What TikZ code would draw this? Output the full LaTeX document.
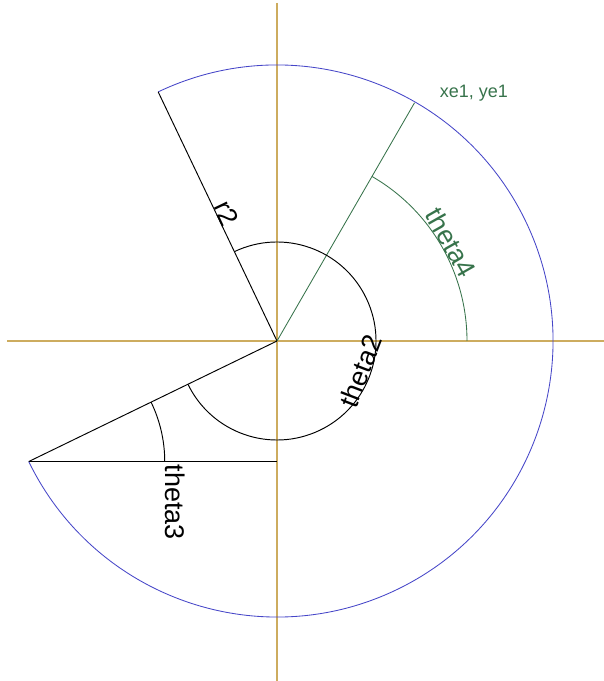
\documentclass[tikz,border=0pt]{standalone}
\usepackage{fontspec}
\setmainfont{Liberation Sans}
\definecolor{axiscol}{RGB}{205,172,95}
\definecolor{arcblue}{RGB}{70,70,200}
\definecolor{lblgreen}{RGB}{55,115,75}
\begin{document}
\begin{tikzpicture}[
  axisline/.style={draw=axiscol, line width=1.1pt},
  blackline/.style={draw=black, line width=0.95pt},
  greenline/.style={draw=lblgreen, line width=0.85pt},
  blueline/.style={draw=arcblue, line width=0.85pt},
  lbl/.style={font=\fontsize{27}{30}\selectfont, inner sep=0pt},
]
\useasboundingbox (0,0) rectangle (604pt,681pt);
\coordinate (C) at (277pt,340pt);
\coordinate (AxL) at (7pt,340pt);
\coordinate (AxR) at (604pt,340pt);
\coordinate (AxT) at (277pt,678pt);
\coordinate (AxB) at (277pt,0pt);
\draw[axisline] (AxL) -- (AxR);
\draw[axisline] (AxT) -- (AxB);
\path (C) ++(115.5:276pt) coordinate (R2end);
\path (C) ++(-154.1:276pt) coordinate (P3);
\path (C) ++(60:275pt) coordinate (G);
\coordinate (H) at (P3 -| C);
% outer arc
\draw[blueline] (R2end) arc[start angle=115.5, end angle=-154.1, radius=276pt];
% radial lines
\draw[blackline] (C) -- (R2end);
\draw[blackline] (C) -- (P3);
\draw[blackline] (P3) -- (H);
\draw[greenline] (C) -- (G);
% angle arcs
\draw[blackline] (C) ++(115.5:99pt) arc[start angle=115.5, end angle=-154.1, radius=99pt];
\draw[greenline] (C) ++(0:190pt) arc[start angle=0, end angle=60, radius=190pt];
\draw[blackline] (P3) ++(0:136pt) arc[start angle=0, end angle=25.9, radius=136pt];
% labels
\path (C) ++(29.5:190pt) node[lbl, text=lblgreen, rotate=-60.5, anchor=south] (t4) {theta4};
\path (C) ++(-20:99pt) node[lbl, rotate=69, anchor=south] (t2) {theta2};
\path (P3) ++(136pt,-3pt) node[lbl, rotate=-90, anchor=south west] (t3) {theta3};
\path (C) ++(115.5:137pt) node[lbl, rotate=-64.5, anchor=south] (r2) {r2};
\node[font=\fontsize{18}{20}\selectfont, text=lblgreen, inner sep=0pt] (xy) at (474pt,588pt) {xe1, ye1};
\end{tikzpicture}
\end{document}
